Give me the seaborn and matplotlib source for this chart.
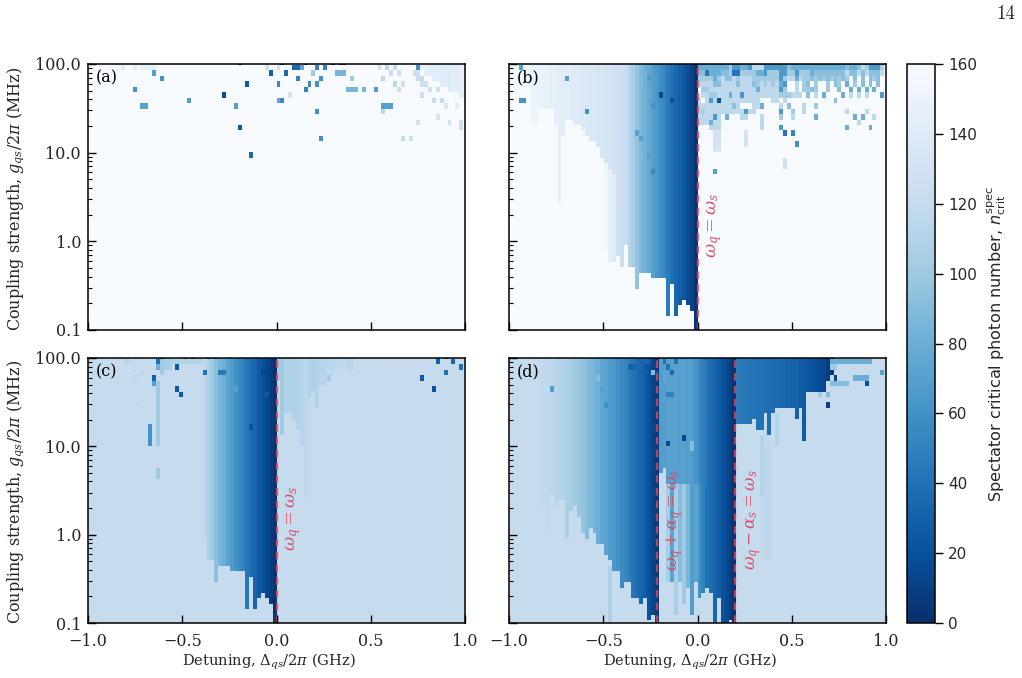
import numpy as np
import matplotlib
matplotlib.use("Agg")
import matplotlib.pyplot as plt
import seaborn as sns

# Sweep grid: detuning columns and log-spaced coupling rows
N_COLS = 98
N_ROWS = 50
DETUNING_TICKS = [-1.0, -0.5, 0.0, 0.5, 1.0]
COUPLING_TICKS = [0.1, 1.0, 10.0, 100.0]
COUPLING_MINOR = [m * d for d in (0.1, 1.0, 10.0) for m in range(2, 10)]
COLORBAR_TICKS = [0, 20, 40, 60, 80, 100, 120, 140, 160]
PANEL_TAGS = ["(a)", "(b)", "(c)", "(d)"]

SATURATED = 160   # background of the first two panels
PLATEAU = 120     # background of the last two panels

# ---- panel (a): isolated resonances, entries are (column, row, n_crit) ----
A_SPOTS = [
    (17,47,70),(19,46,60),(12,44,60),(26,42,70),(35,43,15),(41,45,25),(38,41,70),(14,41,70),(15,41,70),
    (39,37,25),(42,32,35),(60,35,60),(59,40,60),(47,47,30),(51,47,35),(54,46,50),(49,45,55),(53,48,35),
    (54,48,35),(55,48,75),(57,45,55),(56,44,50),(59,45,60),(60,46,60),(59,48,50),(61,48,50),(58,47,100),
    (49,42,75),(50,42,55),(52,43,130),(64,47,85),(65,47,85),(66,47,85),(68,46,100),(67,44,85),(68,44,85),
    (69,44,85),(71,44,85),(74,44,70),(76,41,70),(77,41,70),(78,41,70),(76,40,115),(79,45,115),(80,44,125),
    (81,45,125),(76,46,115),(78,47,125),(80,47,125),(79,48,120),(77,48,115),(75,48,125),(85,48,60),
    (84,47,125),(85,47,125),(85,46,120),(86,46,120),(86,45,125),(87,45,125),(88,44,125),(90,44,125),
    (86,43,125),(89,42,120),(91,42,120),(92,41,135),(95,41,140),(90,39,130),(85,38,125),(93,38,130),
    (96,38,125),(96,37,125),(81,35,120),(83,35,125),(46,48,125),(49,48,130),(9,48,140),(12,48,140),
    (14,48,145),(15,48,145),(16,48,145),(17,48,145),(39,49,15),(50,49,15),(56,49,15),(63,49,15),
    (65,49,15),(66,49,15),
]
A_WEDGE_COLUMNS = [85, 86, 87, 88, 89, 90, 91, 92, 93, 94, 95, 96, 97]
A_WEDGE_FLOORS = [48, 48, 47, 47, 46, 46, 45, 45, 44, 44, 44, 43, 43]
A_WEDGE_VALUES = [148, 146, 145, 144, 143, 142, 141, 140, 141, 142, 143, 144, 145]

# ---- panel (b): band below the spectator frequency ----
B_BAND_VALUES = [
    158,157,156,155,154,153,152,150,149,148,147,146,145,144,143,142,141,140,139,138,137,136,135,133,
    132,131,130,129,127,125,121,112,104,96,88,82,76,70,64,58,52,46,40,34,29,24,18,11,3,
]
B_BAND_FLOORS = [
    45,45,45,45,45,45,38,38,41,41,41,41,38,24,36,39,39,38,38,37,36,35,35,34,32,
    15,13,13,14,12,16,12,12,8,11,11,11,10,10,10,10,3,9,3,5,6,5,4,0,
]
B_FADE_COLUMNS = [25, 26, 27, 28, 29]
B_FADE_SPLITS = [31, 30, 29, 26, 23]
B_FADE_VALUES = [152, 146, 140, 128, 124]
B_SPOTS = [
    (15,46,70),(3,42,60),(4,42,60),(20,40,60),(33,36,70),(34,35,70),(36,32,70),(37,29,55),(36,46,65),
    (39,43,15),(42,42,20),(37,41,60),(3,48,70),(71,36,40),(73,36,50),(74,34,60),(71,31,125),(71,30,125),
    (53,29,70),(53,36,130),(54,36,130),(53,35,130),(54,35,130),(53,34,130),(54,34,130),(53,33,135),
    (54,33,135),(61,36,130),(61,35,130),(61,34,130),
]
# Scattered resonances above the spectator frequency, rows 48 down to 37, columns 49 to 96
B_LEVELS = {".": 160, "1": 20, "2": 42, "3": 65, "4": 80, "5": 92, "6": 102, "7": 116}
B_SCATTER_ROWS = [
    "44444444" "6" "33" "44" "3" "777" "33333" "3" "5" "4" "4444444444444" "5445" "7" "6" "333" "6",
    "55" "2" "444" "55" "6" "22" "6" "666" "44" "3" "666" "33" "66" "3" "666" "4" "55555555" "7" "55" "7" "5" "7" "555" "7",
    "6666" "4" "6" "7" "55" "7" "6" "777" "6666666" "3" "6" "77" "4" "7" "665" "65656565" "6" "." "5" "." "5" "." "5" "6" "5" ".",
    "7777" "55" "77" "7" "7" "5" "777" "5" "676767" "4" "3" ".." "7" "." "6" "5" "." "6" ".." "6" "." "5" "6" "." "4" "." "6" "." "5" "." "5" "." "5" ".",
    "." "66" "777" "77777" "7777" "4" "77777" "3" "6" ".." "7" "." "66" "5" "6" ".." "6" ".." "5" ".." "4" "." "4" "." "4" "." "4" "..",
    "." "7" "7" "6" "6" "7" "7" "7" "4" "7" "7" "3" "777777777" "666" "777" "." "5" "." "7" "." "4" "...." "4" "." "7" "." "7" "." "7" "..." "3",
    "7.7371" "7777777" "777" "..." "77" "." "7" "............" "5" "............",
    "777777777" "5" "7" "..." "77" "4" "...." "7" "." "5" "..." "7" ".." "6" ".................",
    "7" "6" "7777777777" "3" "7" "7" "......" "3" ".." "6" ".." "7" ".........." "7" "...." "7" "....",
    "7777" "3" "7" "." "4" "..." "77" "..." "7" "...." "6" ".." "7" "....." "4" "........." "4" "." "4" ".." "7" "..",
    "777" "4" "77" ".........." "7" "........................" "7" "......",
    "..." "777" ".........." "7" "...." "3" "................" "4" "....." "4" "...",
]
B_SCATTER_TOP_VALUE = 55

# ---- panel (c): band below the spectator frequency on a plateau ----
C_BAND_COLUMNS_START = 30
C_BAND_VALUES = [115,108,100,93,86,80,73,67,61,55,49,43,37,32,26,20,14,8,2]
C_BAND_FLOORS = [16,12,12,8,11,11,11,10,10,10,10,3,9,3,5,6,5,4,0]
C_TAIL_START = 49
C_TAIL_FLOORS = [45,35,39,39,38,36,33,23,42,43,40,44,44,47,46,47,47,48,47,47]
C_TAIL_VALUES = [104,100,108,108,108,110,112,115,108,108,110,112,112,114,114,116,116,116,114,114]
C_SPOTS = [
    (18,48,40),(18,47,80),(23,47,25),(30,46,40),(34,46,45),(35,46,45),(17,45,30),(17,44,70),(23,43,25),
    (24,42,25),(16,36,60),(16,35,60),(16,34,60),(16,33,60),(42,36,20),(45,46,15),(46,42,25),(38,43,70),
    (19,48,100),(19,47,100),(19,46,100),(20,48,105),(20,47,105),(21,48,105),(21,47,105),(10,48,110),
    (12,45,115),(14,46,115),(13,40,115),(62,45,100),(90,48,30),(94,48,35),(96,47,40),(92,46,40),(86,45,25),
    (89,43,20),(19,49,15),(25,49,15),(27,49,15),(31,49,15),(33,49,15),(90,49,20),(92,49,20),
]
C_TAIL_COLUMN = 18
C_TAIL_ROWS = [27, 28, 33, 34, 35, 36, 37, 38, 39, 40, 41, 42, 43, 44]
C_TOP_ROW_COLUMNS = [22, 23, 24, 25, 26, 27, 28, 29]

# ---- panel (d): three bands split by the two anharmonic resonances ----
D_LEFT_START = 8
D_LEFT_VALUES = [119,118,117,115,113,111,109,107,104,101,98,95,91,88,84,80,76,72,68,64,60,56,52,47,43,38,33,27,20,12,6]
D_LEFT_FLOORS = [21,23,17,24,22,23,23,16,21,22,20,17,16,18,17,15,15,13,12,10,10,7,8,8,5,5,4,5,1,2,0]
D_MID_START = 39
D_MID_VALUES = [68,70,71,71,71,70,70,69,67,62,55,49,43,38,33,28,22,15,9,2]
D_MID_FLOORS = [28,29,8,8,2,8,4,7,2,8,5,6,7,6,0,5,0,0,1,0]
D_MID_LOW_START = 41
D_MID_LOW_VALUES = [105,72,105,90,100,85,68,72,60,50,40]
D_MID_LOW_SPLIT = 26
D_RIGHT_START = 59
D_RIGHT_VALUES = [46,45,44,43,42,41,40,39,38,37,36,35,34,33,31,30,28,26,24,22,20,17,14,9,5]
D_RIGHT_FLOORS = [37,37,37,37,38,36,36,39,35,39,40,40,40,40,40,38,40,34,43,43,43,43,43,45,47]
# (column, lowest row, highest row, n_crit)
D_TAILS = [(26, 0, 11, 108), (65, 24, 35, 110), (66, 12, 38, 115), (67, 12, 34, 115), (69, 33, 39, 110)]
D_SPOTS = [
    (11,43,70),(23,45,90),(24,43,70),(25,40,60),(31,47,30),(32,47,30),(33,47,35),(34,47,35),(35,48,35),
    (36,48,30),(37,46,90),(38,46,15),(41,33,15),(45,34,15),(41,42,50),(42,42,50),(40,48,40),(43,48,40),
    (41,47,40),(42,46,35),(40,45,75),(47,32,90),(47,33,90),(83,48,80),(84,48,80),(85,48,80),(86,48,80),
    (87,48,80),(88,48,80),(89,48,80),(90,48,80),(91,48,80),(92,48,80),(93,48,80),(83,47,100),(84,47,100),
    (83,46,5),(84,45,10),(89,45,80),(90,45,80),(91,45,80),(92,45,80),(92,44,20),(83,44,90),(84,44,90),
    (85,44,90),(86,44,90),(87,44,90),(96,46,70),(80,42,100),(82,42,90),(82,40,10),
]

LINE_B = [0.0]
LINE_C = [0.0]
LINE_D = [-0.2175, 0.2]


def paint_band(grid, start, values, floors):
    for offset, (value, floor) in enumerate(zip(values, floors)):
        grid[floor:, start + offset] = value


def paint_spots(grid, spots):
    for col, row, value in spots:
        grid[row, col] = value


def panel_a():
    grid = np.full((N_ROWS, N_COLS), float(SATURATED))
    for col, floor, value in zip(A_WEDGE_COLUMNS, A_WEDGE_FLOORS, A_WEDGE_VALUES):
        grid[floor:, col] = value
    paint_spots(grid, A_SPOTS)
    return grid


def panel_b():
    grid = np.full((N_ROWS, N_COLS), float(SATURATED))
    paint_band(grid, 0, B_BAND_VALUES, B_BAND_FLOORS)
    for col, split, value in zip(B_FADE_COLUMNS, B_FADE_SPLITS, B_FADE_VALUES):
        grid[B_BAND_FLOORS[col]:split, col] = value
    grid[49, 49:] = B_SCATTER_TOP_VALUE
    for offset, row in enumerate(B_SCATTER_ROWS):
        grid[48 - offset, 49:97] = [B_LEVELS[ch] for ch in row]
    paint_spots(grid, B_SPOTS)
    return grid


def panel_c():
    grid = np.full((N_ROWS, N_COLS), float(PLATEAU))
    paint_band(grid, C_BAND_COLUMNS_START, C_BAND_VALUES, C_BAND_FLOORS)
    paint_band(grid, C_TAIL_START, C_TAIL_VALUES, C_TAIL_FLOORS)
    grid[C_TAIL_ROWS, C_TAIL_COLUMN] = 100
    grid[48, C_TOP_ROW_COLUMNS] = 110
    paint_spots(grid, C_SPOTS)
    return grid


def panel_d():
    grid = np.full((N_ROWS, N_COLS), float(PLATEAU))
    for col, low, high, value in D_TAILS:
        grid[low:high, col] = value
    paint_band(grid, D_LEFT_START, D_LEFT_VALUES, D_LEFT_FLOORS)
    paint_band(grid, D_MID_START, D_MID_VALUES, D_MID_FLOORS)
    for offset, value in enumerate(D_MID_LOW_VALUES):
        col = D_MID_LOW_START + offset
        grid[D_MID_FLOORS[col - D_MID_START]:D_MID_LOW_SPLIT, col] = value
    paint_band(grid, D_RIGHT_START, D_RIGHT_VALUES, D_RIGHT_FLOORS)
    paint_spots(grid, D_SPOTS)
    return grid


W, H = 1022, 678
sns.set_theme(style="white")
plt.rcParams.update({
    "font.family": "DejaVu Serif",
    "mathtext.fontset": "dejavuserif",
    "axes.linewidth": 1.1,
    "xtick.direction": "in",
    "ytick.direction": "in",
})
fig = plt.figure(figsize=(W / 100, H / 100), dpi=100)


def frame(left, top, right, bottom):
    return [left / W, 1 - bottom / H, (right - left) / W, (bottom - top) / H]


axes = [
    fig.add_axes(frame(88, 64, 465, 330)),
    fig.add_axes(frame(509, 64, 886, 330)),
    fig.add_axes(frame(88, 358, 465, 623)),
    fig.add_axes(frame(509, 358, 886, 623)),
]
cax = fig.add_axes(frame(907, 64, 935, 623))

# Rows and columns are centred on grid points; the half cell at each edge is cut by the limits
X_LOW, X_HIGH = 0.5, 97.5
Y_LOW, Y_HIGH = 0.5, 49.16


def x_pos(detuning):
    return X_LOW + (X_HIGH - X_LOW) * (np.asarray(detuning) + 1) / 2


def y_pos(coupling):
    return Y_LOW + (Y_HIGH - Y_LOW) * (np.log10(coupling) + 1) / 3


grids = [panel_a(), panel_b(), panel_c(), panel_d()]
for idx, (ax, grid, tag) in enumerate(zip(axes, grids, PANEL_TAGS)):
    sns.heatmap(grid, ax=ax, cmap="Blues_r", vmin=0, vmax=SATURATED, cbar=idx == 0,
                cbar_ax=cax if idx == 0 else None, xticklabels=False, yticklabels=False)
    ax.set_xlim(X_LOW, X_HIGH)
    ax.set_ylim(Y_LOW, Y_HIGH)
    ax.set_axisbelow(False)
    for spine in ax.spines.values():
        spine.set_visible(True)
        spine.set_linewidth(1.1)
        spine.set_color("black")
    ax.set_xticks(x_pos(DETUNING_TICKS))
    ax.set_yticks(y_pos(np.array(COUPLING_TICKS)))
    ax.set_yticks(y_pos(np.array(COUPLING_MINOR)), minor=True)
    ax.tick_params(axis="x", which="major", length=6, width=1.0, color="black", bottom=True,
                   rotation=0, pad=7)
    ax.tick_params(axis="y", which="major", length=6, width=1.0, color="black", left=True,
                   rotation=0, pad=5)
    ax.tick_params(axis="y", which="minor", length=3, width=0.8, color="black", left=True)
    if idx >= 2:
        ax.set_xticklabels([f"{v:.1f}".replace("-", "\u2212") for v in DETUNING_TICKS], fontsize=11.5)
        ax.set_xlabel(r"Detuning, $\Delta_{qs}/2\pi$ (GHz)", fontsize=10.5)
        ax.xaxis.set_label_coords((269 - 88) / 377, -0.11)
    else:
        ax.set_xticklabels([])
        ax.set_xlabel("")
    if idx % 2 == 0:
        ax.set_yticklabels([f"{v:.1f}" for v in COUPLING_TICKS], fontsize=11.5)
        ax.set_ylabel(r"Coupling strength, $g_{qs}/2\pi$ (MHz)", fontsize=11.5)
        ax.yaxis.set_label_coords(-0.165, 0.493)
    else:
        ax.set_yticklabels([])
        ax.set_ylabel("")
    ax.text(0.02, 0.948, tag, transform=ax.transAxes, fontsize=11.5, va="center", ha="left", color="black")

RED = "#dc4a5e"
DASH = dict(color=RED, linestyle=(0, (3.2, 2.2)), linewidth=1.7, alpha=0.8)
LABEL = dict(color=RED, rotation=90, ha="center", va="center", alpha=0.95)
for value in LINE_B:
    axes[1].axvline(x_pos(value), **DASH)
for value in LINE_C:
    axes[2].axvline(x_pos(value), **DASH)
for value in LINE_D:
    axes[3].axvline(x_pos(value), **DASH)
axes[1].text(0.545, 0.395, r"$\omega_q = \omega_s$", transform=axes[1].transAxes, fontsize=12.5, **LABEL)
axes[2].text(0.545, 0.395, r"$\omega_q = \omega_s$", transform=axes[2].transAxes, fontsize=12.5, **LABEL)
axes[3].text(0.44, 0.39, r"$\omega_q + \alpha_q = \omega_s$", transform=axes[3].transAxes, fontsize=12, **LABEL)
axes[3].text(0.648, 0.39, r"$\omega_q - \alpha_s = \omega_s$", transform=axes[3].transAxes, fontsize=12, **LABEL)

# Colour bar uses the sans family and outward ticks
cbar = axes[0].collections[0].colorbar
cbar.set_ticks(COLORBAR_TICKS)
cbar.ax.tick_params(direction="out", length=6, width=1.0, labelsize=11, right=True, color="black")
for label in cbar.ax.get_yticklabels():
    label.set_family("DejaVu Sans")
cbar.set_label(r"Spectator critical photon number, $n_{\mathrm{crit}}^{\mathrm{spec}}$",
               family="DejaVu Sans", fontsize=11.6, math_fontfamily="dejavusans", labelpad=6)
cbar.outline.set_visible(True)
cbar.outline.set_edgecolor("black")
cbar.outline.set_linewidth(1.1)

fig.text(1006 / W, 1 - 14 / H, "14", family="cmr10", fontsize=13.5, ha="center", va="center", color="#222222")

fig.savefig("out.png", dpi=100)
